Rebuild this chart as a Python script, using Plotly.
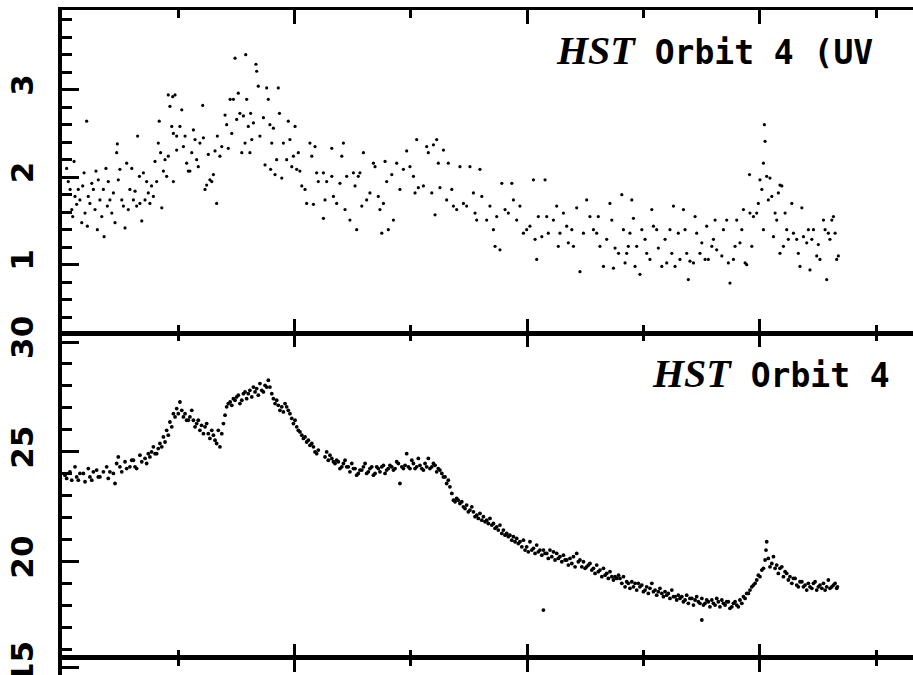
import plotly.graph_objects as go
from plotly.subplots import make_subplots

# ---------------- data (time in s) ----------------
# top panel: UV continuum flux
top_a = [(20,2.10),(27,1.95),(35,1.86),(42,1.63),(46,1.55),(52,2.18),(56,1.78),(63,1.69),(70,1.86),(77,1.74),
         (85,1.48),(89,1.90),(95,2.05),(99,1.59),(106,2.64),(109,1.44),(113,1.78),(120,1.70),(128,1.93),(135,1.86),
         (142,1.63),(146,2.07),(152,1.40),(156,1.97),(163,1.74),(171,1.55),(178,1.86),(181,1.32),(189,2.10),(195,1.67),
         (199,1.95),(206,1.74),(214,1.59),(221,1.82),(228,1.48),(235,2.28),(238,2.38),(242,1.97),(249,2.09),(257,1.74),
         (264,1.67),(271,1.42),(278,2.16),(285,1.63),(292,1.86),(300,2.10),(307,1.74),(314,1.84),(321,1.67),(325,2.47),
         (333,2.01),(335,1.70),(343,1.50),(350,2.05),(357,1.74),(364,1.95),(371,1.82),(378,1.70),(385,1.90),(393,1.78),
         (400,2.18),(407,1.95),(414,2.39),(418,2.64),(424,2.28),(429,1.65),(436,2.07),(443,2.20)]
top_b = [(457,2.94),(464,2.81),(476,2.92),(486,2.94),(472,2.58),(479,2.50),(493,2.47),(507,2.58),(515,2.77),(493,2.31),
         (479,1.95),(457,2.24),(450,2.01),(522,2.35),(529,2.47),(536,2.16),(543,2.07),(558,2.28),(565,2.54),(572,2.43),
         (579,2.20),(586,2.12),(593,2.39),(605,2.82),(550,2.07),(608,2.45),(615,1.86),(622,1.91),(629,2.26),(636,1.97),
         (644,1.95),(651,2.03),(658,2.30),(665,1.70),(668,2.47),(679,2.24),(687,2.35),(701,2.71),(708,2.60),(723,2.89),
         (715,2.33),(730,2.50),(737,2.89),(744,3.36),(751,2.66),(758,2.96),(765,2.73),(773,2.28),(780,2.70),(787,2.39),
         (790,3.40),(794,2.89),(801,2.58),(808,2.28),(811,2.73),(816,2.43),(823,2.62),(834,3.29),(837,3.21),(844,3.04),
         (851,2.47),(866,2.68),(873,2.14),(880,3.02),(887,2.89),(894,2.60),(897,2.09),(902,2.39),(909,2.56),(916,2.03),
         (923,2.20),(930,3.02),(935,2.73),(945,1.99),(952,2.39),(966,2.20),(973,2.64),(980,2.43),(988,2.12),(995,2.24),
         (1002,2.58),(1009,2.09),(1016,2.28),(1023,2.07),(1031,1.90),(1045,1.86),(1052,1.70),(1066,2.39),(1074,2.24),
         (1081,1.69),(1088,2.35),(1095,2.05),(1102,1.95)]
top_c = [(1124,2.05),(1124,1.53),(1131,1.74),(1138,1.95),(1160,2.33),(1160,2.01),(1167,1.78),(1181,1.70),(1195,1.93),
         (1203,2.24),(1210,2.39),(1217,1.63),(1224,2.01),(1238,1.51),(1253,2.05),(1260,1.90),(1267,1.40),(1274,2.01),
         (1281,2.05),(1289,1.67),(1296,2.28),(1310,1.74),(1324,1.82),(1339,2.16),(1346,2.12),(1360,1.78),(1367,1.63),
         (1375,1.36),(1382,1.70),(1389,2.18),(1396,1.95),(1403,1.40),(1418,2.03),(1425,1.51),(1439,2.16),(1453,1.86),
         (1468,2.09),(1482,2.30),(1496,2.12),(1511,2.01),(1518,1.82),(1525,2.43),(1532,1.88),(1554,1.90),(1568,2.35),
         (1575,2.28),(1590,1.82),(1597,2.37),(1604,1.57),(1611,2.43),(1618,2.16),(1625,1.88),(1640,2.31),(1654,1.74),
         (1661,2.16),(1676,1.86),(1683,1.67),(1697,1.63),(1711,2.12),(1726,1.70),(1740,1.67),(1754,2.12),(1769,1.82),
         (1776,1.59),(1783,1.51),(1797,2.09),(1805,1.78),(1826,1.51),(1840,1.67),(1855,1.40),(1862,1.21),(1869,1.55),
         (1883,1.17),(1891,1.93),(1905,1.63),(1919,1.59),(1934,1.93),(1941,1.74),(1955,1.51),(1969,1.67),(1984,1.36),
         (1998,1.40),(2012,1.44),(2027,1.97),(2034,1.29),(2041,1.06),(2048,1.55),(2063,1.32),(2077,1.97),(2084,1.55),
         (2091,1.36),(2113,1.51),(2127,1.67),(2134,1.21),(2141,1.36),(2156,1.59),(2170,1.44),(2177,1.25),(2192,1.40),
         (2199,1.21),(2213,1.65),(2227,0.92),(2242,1.36),(2256,1.74),(2270,1.55),(2285,1.40),(2299,1.36),(2306,1.55),
         (2313,1.21),(2328,0.98),(2342,1.29),(2356,1.70),(2364,1.51),(2371,0.96),(2378,1.19),(2393,1.13)]
top_d = [(2407,1.80),(2414,1.40),(2421,1.02),(2428,1.13),(2435,1.21),(2442,1.36),(2450,1.74),(2457,1.53),(2464,0.98),
         (2471,1.21),(2485,0.89),(2493,1.40),(2507,1.29),(2514,1.13),(2528,1.06),(2536,1.63),(2543,1.44),(2557,1.40),
         (2564,1.19),(2579,0.98),(2593,1.29),(2600,1.02),(2614,1.40),(2622,1.13),(2629,1.67),(2636,0.98),(2650,1.36),
         (2657,1.06),(2672,1.63),(2679,1.40),(2686,1.13),(2693,0.83),(2700,1.04),(2715,1.02),(2722,1.55),(2729,1.36),
         (2743,1.13),(2751,1.25),(2765,1.06),(2772,1.44),(2779,1.06),(2794,1.21),(2801,1.29),(2808,1.51),(2815,1.17),
         (2837,1.10),(2844,1.40),(2858,1.51),(2865,1.02),(2872,0.79),(2887,1.06),(2894,1.21),(2901,1.51),(2915,1.25),
         (2923,1.40),(2930,1.63),(2937,1.02),(2944,1.00),(2956,2.03),(2958,1.59),(2966,1.21),(2973,1.55),(2987,1.59),
         (2994,1.70),(3001,1.97),(3009,1.86),(3016,1.40),(3020,2.60),(3023,2.41),(3016,2.16),(3030,2.01),(3044,1.99),
         (3037,1.74),(3052,1.78),(3059,1.32),(3066,1.59),(3073,1.51),(3087,1.91),(3095,1.90),(3080,1.82),(3087,1.13),
         (3102,1.21),(3109,1.59),(3116,1.40),(3123,1.29),(3138,1.70),(3145,1.36),(3159,1.29),(3166,1.13),(3173,0.98),
         (3181,1.65),(3188,1.32),(3202,1.25),(3209,1.40),(3216,0.94),(3224,1.29),(3231,1.40),(3245,1.10),(3252,1.23),
         (3259,1.06),(3274,1.51),(3281,1.40),(3288,0.83),(3295,1.36),(3302,1.29),(3310,1.51),(3317,1.55),(3324,1.36),
         (3331,1.06),(3338,1.10)]

# bottom panel: optical flux
bot_a = [(13,23.94),(20,23.79),(34,24.09),(42,23.71),(56,24.32),(63,23.86),(70,23.71),(77,24.02),(92,24.02),(99,23.64),
         (113,24.24),(120,23.86),(128,23.71),(135,24.09),(149,24.17),(156,23.86),(163,23.86),(178,24.09),(192,24.32),
         (199,23.79),(206,24.09),(221,24.02),(228,23.56),(235,24.47),(242,24.77),(249,24.32),(257,24.09),(271,24.55),
         (278,24.24),(292,24.32),(300,24.62),(307,24.62),(314,24.32),(321,24.24),(335,24.85),(343,24.55),(357,24.70),
         (364,24.47),(371,24.92),(378,24.77),(385,25.00),(393,25.23),(400,24.92),(407,24.92),(414,25.15),(421,25.38),
         (429,25.23),(436,25.68),(443,25.45),(450,25.98),(457,25.76),(464,26.36),(472,26.14),(479,26.74),(486,26.59),
         (493,26.97),(500,26.74),(507,27.27),(515,26.89),(522,26.59),(529,26.74),(536,26.44),(543,26.44),(550,26.59),
         (558,26.89),(565,26.44),(572,26.14),(579,26.29),(586,26.44),(593,25.98),(600,26.21),(608,25.83),(615,26.14),
         (622,26.29),(629,25.83),(636,25.61),(644,25.98),(651,25.76),(658,25.53),(665,25.38),(672,25.98),(679,25.23),
         (687,25.83),(694,26.29),(701,26.67),(708,27.05),(715,27.20),(723,27.27),(730,27.12),(737,27.42),(744,27.35),
         (751,27.50),(758,27.58),(765,27.20),(773,27.35),(780,27.65),(787,27.73),(794,27.42),(801,27.65),(808,27.80),
         (816,27.50),(823,27.95),(830,27.73),(837,27.88),(844,27.58),(851,28.11),(859,27.80),(866,27.73),(873,28.03),
         (880,27.95),(887,28.26),(894,27.95),(902,27.65),(909,27.42),(916,27.20),(923,27.35),(930,27.12),(937,26.89),
         (945,27.05),(952,26.82),(959,27.20),(966,27.05),(973,26.89),(980,26.74),(988,26.52),(995,26.29),(1002,26.44),
         (1009,26.14),(1016,25.98),(1023,25.91),(1031,25.76),(1038,25.61),(1045,25.68),(1052,25.45),(1059,25.53),
         (1066,25.30),(1074,25.38),(1081,25.23),(1088,25.00),(1095,24.92),(1102,25.08)]
bot_b = [(1131,24.77),(1138,25.00),(1145,24.62),(1152,24.85),(1160,24.70),(1167,24.55),(1174,24.47),(1181,24.62),
         (1188,24.55),(1195,24.24),(1203,24.32),(1210,24.47),(1217,24.62),(1224,24.32),(1231,24.32),(1238,24.09),
         (1246,24.47),(1253,24.24),(1260,24.24),(1267,23.94),(1274,24.02),(1281,24.17),(1289,24.17),(1296,24.32),
         (1303,24.47),(1310,24.02),(1317,24.09),(1324,24.24),(1332,24.32),(1339,23.94),(1346,24.02),(1353,24.32),
         (1360,24.24),(1367,24.09),(1375,24.32),(1382,24.39),(1389,24.02),(1396,24.17),(1403,24.24),(1410,24.39),
         (1418,24.32),(1425,24.17),(1432,24.24),(1439,24.55),(1446,24.47),(1453,23.56),(1461,24.32),(1468,24.24),
         (1475,24.39),(1482,24.92),(1489,24.32),(1496,24.24),(1504,24.62),(1511,24.47),(1518,24.24),(1525,24.32),
         (1532,24.70),(1539,24.39),(1547,24.24),(1554,24.17),(1561,24.47),(1568,24.32),(1575,24.70),(1582,24.24),
         (1590,24.32),(1597,24.47),(1604,24.39),(1611,24.09),(1618,24.24),(1625,24.17),(1633,24.02),(1640,23.86),
         (1647,23.86),(1654,23.56),(1661,23.71),(1668,23.41),(1676,23.11),(1683,22.80),(1690,22.73),(1697,22.88),
         (1704,22.80),(1711,22.65),(1719,22.73),(1726,22.50),(1733,22.42),(1740,22.58),(1747,22.27),(1754,22.35),
         (1762,22.50),(1769,22.27),(1776,22.05),(1783,22.12),(1790,21.97),(1797,22.20),(1805,21.89),(1812,22.05),
         (1819,21.82),(1826,21.89),(1833,21.74),(1840,21.97),(1848,21.67),(1855,21.74),(1862,21.52),(1869,21.59),
         (1876,21.44),(1883,21.67),(1891,21.29),(1898,21.44),(1905,21.21),(1912,21.29),(1919,21.14),(1926,21.21),
         (1934,20.98),(1941,21.14),(1948,20.91),(1955,21.06),(1962,20.83),(1969,20.91),(1977,20.68),(1984,20.98),
         (1991,20.53),(1998,20.68),(2005,20.45),(2012,20.91),(2020,20.53),(2027,20.61),(2034,20.38),(2041,20.76),
         (2048,20.45),(2055,20.53),(2063,20.30),(2070,20.53),(2070,17.80),(2077,20.38),(2084,20.38),(2091,20.15),
         (2098,20.53),(2106,20.23),(2113,20.45),(2120,20.08),(2127,20.38),(2134,20.15),(2141,20.23),(2149,20.00),
         (2156,20.30),(2163,20.08),(2170,20.08),(2177,19.85),(2184,20.15),(2192,19.92),(2199,20.23),(2206,19.77),
         (2213,20.38),(2220,20.00),(2227,20.08),(2235,19.77),(2242,20.00),(2249,19.70),(2256,19.77),(2263,19.85),
         (2270,19.92),(2278,19.62),(2285,19.70),(2292,19.47),(2299,19.85),(2306,19.55),(2313,19.62),(2321,19.32),
         (2328,19.70),(2335,19.39),(2342,19.47),(2349,19.24),(2356,19.55),(2364,19.32),(2371,19.17),(2378,19.32),
         (2385,19.24),(2393,19.39)]
bot_c = [(2399,19.24),(2407,19.02),(2414,19.32),(2421,18.86),(2428,19.09),(2435,19.02),(2442,18.79),(2450,19.09),
         (2457,18.86),(2464,19.02),(2471,18.71),(2478,19.02),(2485,18.86),(2493,18.94),(2500,18.64),(2507,18.71),
         (2514,18.86),(2521,18.56),(2528,18.79),(2536,19.02),(2543,18.64),(2550,18.71),(2557,18.48),(2564,18.64),
         (2571,18.79),(2579,18.56),(2586,18.41),(2593,18.64),(2600,18.48),(2607,18.56),(2614,18.33),(2622,18.71),
         (2629,18.41),(2636,18.41),(2643,18.26),(2650,18.48),(2657,18.33),(2665,18.41),(2672,18.18),(2679,18.26),
         (2686,18.48),(2693,18.11),(2700,18.33),(2708,18.33),(2715,18.03),(2722,18.26),(2729,18.41),(2736,18.18),
         (2743,18.11),(2751,18.33),(2751,17.35),(2758,18.03),(2765,18.11),(2772,18.26),(2779,18.18),(2786,17.95),
         (2794,18.26),(2801,18.11),(2808,18.03),(2815,18.33),(2822,18.18),(2829,17.95),(2837,18.26),(2844,18.11),
         (2851,18.03),(2858,18.18),(2865,18.18),(2872,17.88),(2880,17.95),(2887,18.11),(2894,18.18),(2901,18.03),
         (2908,17.95),(2915,18.26),(2923,18.11),(2930,18.41),(2937,18.33),(2944,18.56),(2951,18.56),(2958,18.71),
         (2966,18.86),(2973,18.94),(2980,19.02),(2987,19.17),(2994,19.39),(3001,19.32),(3009,19.62),(3016,19.70),
         (3023,20.08),(3027,20.53),(3030,20.91),(3037,20.15),(3044,19.77),(3052,19.92),(3059,20.23),(3066,19.70),
         (3073,19.85),(3080,19.47),(3087,19.70),(3095,19.77),(3102,19.32),(3109,19.55),(3116,19.47),(3123,19.17),
         (3130,19.32),(3138,19.02),(3145,19.24),(3152,19.24),(3159,18.94),(3166,18.86),(3173,19.09),(3181,19.09),
         (3188,18.86),(3195,18.94),(3202,18.71),(3209,19.02),(3216,18.86),(3224,18.79),(3231,19.02),(3238,19.09),
         (3245,18.71),(3252,18.86),(3259,18.94),(3267,18.79),(3274,19.02),(3281,18.71),(3288,18.86),(3295,19.17),
         (3302,18.79),(3310,18.86),(3317,18.94),(3324,19.02),(3331,18.79),(3334,18.86)]

top_ticks = [1, 2, 3]
bot_ticks = [20, 25, 30]
strip_ticks = [15]
top_label = "<span style='font-family:Liberation Serif;font-size:40px'><b><i>HST</i></b></span> Orbit 4 (UV"
bot_label = "<span style='font-family:Liberation Serif;font-size:40px'><b><i>HST</i></b></span> Orbit 4"

top_pts = top_a + top_b + top_c + top_d
bot_pts = bot_a + bot_b + bot_c

# ---------------- figure ----------------
H_TOP, H_MID = 0.5143, 0.02556
fig = make_subplots(rows=3, cols=1, shared_xaxes=False, vertical_spacing=0)
fig.update_layout(
    yaxis=dict(domain=[H_TOP, 1.0]),
    yaxis2=dict(domain=[H_MID, H_TOP]),
    yaxis3=dict(domain=[0.0, H_MID]),
)

fig.add_trace(go.Scatter(x=[p[0] for p in top_pts], y=[p[1] for p in top_pts], mode="markers",
                         marker=dict(color="black", size=3.2), hoverinfo="skip"), row=1, col=1)
fig.add_trace(go.Scatter(x=[p[0] for p in bot_pts], y=[p[1] for p in bot_pts], mode="markers",
                         marker=dict(color="black", size=3.8), hoverinfo="skip"), row=2, col=1)
fig.add_trace(go.Scatter(x=[], y=[], mode="markers"), row=3, col=1)

xcommon = dict(range=[0, 3659], showline=True, linecolor="black", ticks="inside", ticklen=14,
               tickwidth=2.5, tickcolor="black", tick0=0, dtick=1000, showticklabels=False,
               showgrid=False, zeroline=False, automargin=False,
               minor=dict(dtick=500, tick0=0, ticklen=8, tickwidth=2.5, tickcolor="black",
                          ticks="inside", showgrid=False))
fig.update_xaxes(**xcommon)
fig.update_xaxes(mirror="ticks", linewidth=3, row=1, col=1)
fig.update_xaxes(mirror="ticks", linewidth=1.5, row=2, col=1)
fig.update_xaxes(mirror=False, side="top", linewidth=2.5, row=3, col=1)

tickfont = dict(family="DejaVu Sans", size=31, color="black", weight="bold")
ycommon = dict(showline=True, linecolor="black", linewidth=3.5, ticks="inside", ticklen=17,
               tickwidth=3, tickcolor="black", showgrid=False, zeroline=False, tickangle=-90,
               tickfont=tickfont, ticklabelstandoff=13, automargin=False, ticklabeloverflow="allow")
fig.update_yaxes(**ycommon)
fig.update_yaxes(range=[0.22, 3.91], tickmode="array", tickvals=top_ticks,
                 ticktext=[str(v) for v in top_ticks],
                 minor=dict(dtick=0.2, tick0=0, ticklen=10, tickwidth=3, tickcolor="black", ticks="inside"),
                 row=1, col=1)
fig.update_yaxes(range=[15.62, 30.41], tickmode="array", tickvals=bot_ticks,
                 ticktext=[str(v) for v in bot_ticks],
                 minor=dict(dtick=1, tick0=0, ticklen=10, tickwidth=3, tickcolor="black", ticks="inside"),
                 row=2, col=1)
fig.update_yaxes(range=[14.64, 15.41], tickmode="array", tickvals=strip_ticks,
                 ticktext=[str(v) for v in strip_ticks], row=3, col=1)

fig.add_annotation(xref="paper", yref="paper", x=0.5780, y=0.9398, xanchor="left", yanchor="middle",
                   text=top_label, showarrow=False,
                   font=dict(family="DejaVu Sans Mono", size=33, color="black", weight="bold"))
fig.add_annotation(xref="paper", yref="paper", x=0.6910, y=0.4541, xanchor="left", yanchor="middle",
                   text=bot_label, showarrow=False,
                   font=dict(family="DejaVu Sans Mono", size=33, color="black", weight="bold"))

fig.update_layout(width=913, height=675, margin=dict(l=62, r=0, t=10, b=0, autoexpand=False),
                  paper_bgcolor="white", plot_bgcolor="white", showlegend=False)
fig.write_html("out.html", config={"displayModeBar": False},
               post_script="document.body.style.margin='0';document.body.style.overflow='hidden';")
